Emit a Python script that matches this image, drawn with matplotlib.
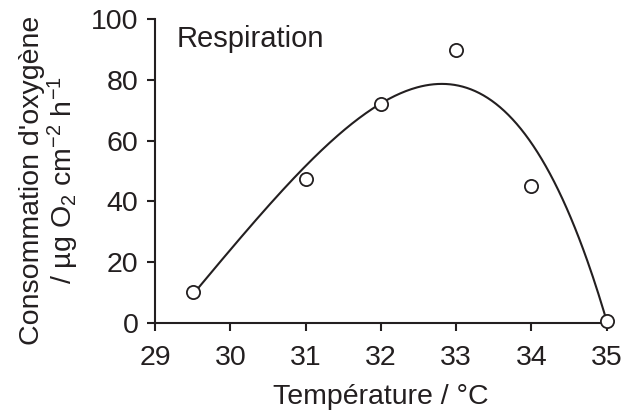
import numpy as np
import matplotlib.pyplot as plt

plt.rcParams['font.family'] = ['Liberation Sans', 'DejaVu Sans']
plt.rcParams['mathtext.fontset'] = 'custom'
plt.rcParams['mathtext.rm'] = 'Liberation Sans'
plt.rcParams['mathtext.it'] = 'Liberation Sans'
plt.rcParams['mathtext.default'] = 'regular'

INK = '#231f20'

# measured points
temperature = [29.5, 31.0, 32.0, 33.0, 34.0, 35.0]
oxygen = [10, 47.5, 72, 90, 45, 0.5]

# trend curve
curve_t = [29.5, 29.6, 29.9, 30.26, 30.5, 30.71, 31.02, 31.37, 31.81, 32.26,
           32.77, 33.37, 33.81, 34.16, 34.47, 34.74, 34.98, 35.0]
curve_o = [9.5, 11.9, 20.7, 31.7, 38.5, 44.4, 52.0, 60.3, 68.5, 76.2,
           79.0, 74.6, 64.7, 53.7, 37.2, 20.7, 2.0, 0.5]

coef = np.polyfit(curve_t, curve_o, 6)
xs = np.linspace(29.5, 35.0, 300)
ys = np.polyval(coef, xs)

xticks = [29, 30, 31, 32, 33, 34, 35]
yticks = [0, 20, 40, 60, 80, 100]

fig = plt.figure(figsize=(6.38, 4.2), dpi=100)
ax = fig.add_axes([0.243, 0.232, 0.708, 0.722])

ax.plot(xs, ys, color=INK, lw=1.5, zorder=2)
ax.plot(temperature, oxygen, 'o', ms=9.5, mfc='white', mec=INK, mew=1.3,
        clip_on=False, zorder=3)

ax.set_xlim(29, 35)
ax.set_ylim(0, 100)
ax.set_xticks(xticks)
ax.set_yticks(yticks)
ax.tick_params(direction='out', length=6, width=1.5, colors=INK,
               labelsize=20.5)
ax.tick_params(axis='x', pad=10.5)
ax.tick_params(axis='y', pad=6)
for s in ['top', 'right']:
    ax.spines[s].set_visible(False)
for s in ['left', 'bottom']:
    ax.spines[s].set_linewidth(1.5)
    ax.spines[s].set_color(INK)

ax.set_xlabel('Température / °C', fontsize=20.5, color=INK, labelpad=9)
ax.set_ylabel("Consommation d'oxygène\n/ µg O$_2$ cm$^{-2}$ h$^{-1}$",
              fontsize=20.5, color=INK, labelpad=10, linespacing=1.05)
ax.yaxis.set_label_coords(-0.163, 0.47)
ax.text(0.047, 0.91, 'Respiration', transform=ax.transAxes,
        fontsize=21, color=INK)

fig.savefig('out.png', dpi=100)
